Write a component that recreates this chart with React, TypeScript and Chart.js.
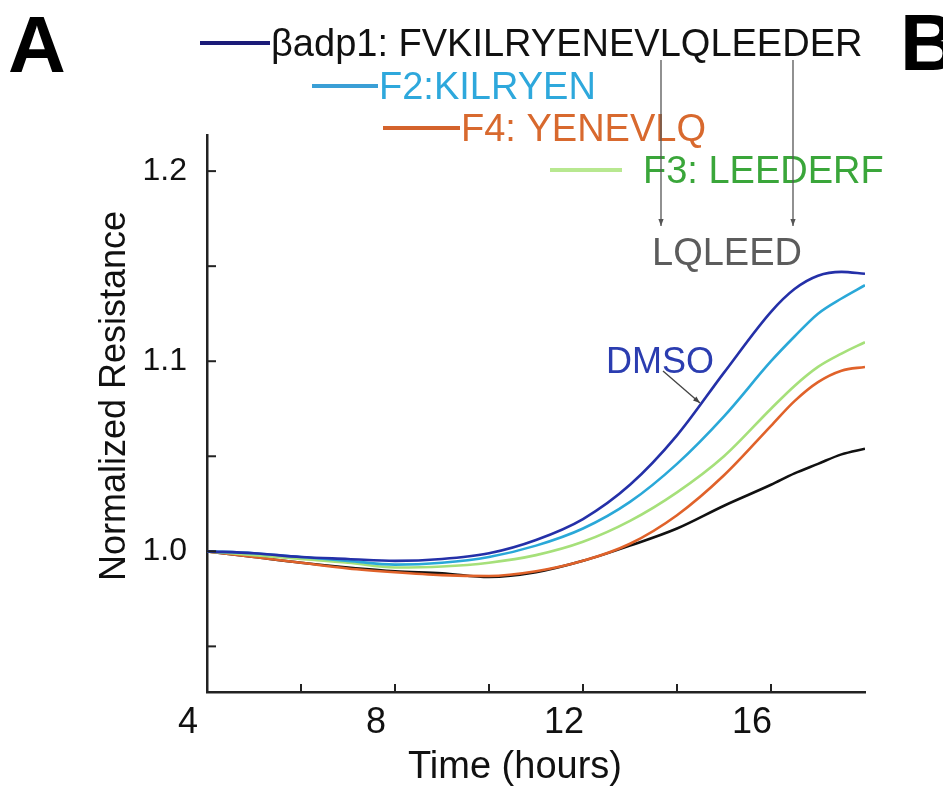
import React, { useEffect, useRef } from 'react';
import { Chart, registerables } from 'chart.js';

Chart.register(...registerables);

// ---- data ----
const TIME_HOURS = [4, 5, 6, 7, 8, 9, 10, 11, 12, 13, 14, 15, 16, 16.5, 17, 17.5, 18];
const DMSO_BADP1 = [1.0, 0.999, 0.997, 0.996, 0.995, 0.996, 0.999, 1.006, 1.017, 1.035, 1.061, 1.094, 1.126, 1.138, 1.145, 1.147, 1.146];
const F2_KILRYEN = [1.0, 0.999, 0.997, 0.995, 0.993, 0.994, 0.997, 1.003, 1.012, 1.026, 1.046, 1.071, 1.1, 1.113, 1.125, 1.133, 1.14];
const F3_LEEDERF = [1.0, 0.998, 0.996, 0.994, 0.9915, 0.992, 0.994, 0.998, 1.005, 1.016, 1.031, 1.05, 1.075, 1.087, 1.097, 1.104, 1.11];
const F4_YENEVLQ = [1.0, 0.997, 0.994, 0.991, 0.989, 0.9875, 0.987, 0.9895, 0.995, 1.004, 1.019, 1.04, 1.066, 1.079, 1.089, 1.095, 1.097];
const LQLEED = [1.0, 0.997, 0.994, 0.9915, 0.9895, 0.9885, 0.9865, 0.989, 0.995, 1.003, 1.012, 1.024, 1.035, 1.041, 1.046, 1.051, 1.054];

const X_TICKS = [4, 6, 8, 10, 12, 14, 16];
const X_TICK_LABELS = ['4', '', '8', '', '12', '', '16'];
const Y_TICKS = [0.95, 1.0, 1.05, 1.1, 1.15, 1.2];
const Y_TICK_LABELS = ['', '1.0', '', '1.1', '', '1.2'];
const X_MIN = 4;
const X_MAX = 18;
const Y_MIN = 0.926;
const Y_MAX = 1.219;

const X_TITLE = 'Time (hours)';
const Y_TITLE = 'Normalized Resistance';

const FONT = "'Liberation Sans', Arial, sans-serif";

const pts = (arr: number[]) => TIME_HOURS.map((t, i) => ({ x: t, y: arr[i] }));

function arrowLine(ctx: CanvasRenderingContext2D, x1: number, y1: number, x2: number, y2: number) {
  ctx.beginPath();
  ctx.moveTo(x1, y1);
  ctx.lineTo(x2, y2);
  ctx.stroke();
  const a = Math.atan2(y2 - y1, x2 - x1);
  const L = 7, W = 2.6;
  ctx.beginPath();
  ctx.moveTo(x2, y2);
  ctx.lineTo(x2 - L * Math.cos(a) + W * Math.sin(a), y2 - L * Math.sin(a) - W * Math.cos(a));
  ctx.lineTo(x2 - L * Math.cos(a) - W * Math.sin(a), y2 - L * Math.sin(a) + W * Math.cos(a));
  ctx.closePath();
  ctx.fill();
}

const decorPlugin = {
  id: 'decor',
  afterDraw(chart: any) {
    const ctx: CanvasRenderingContext2D = chart.ctx;
    const ca = chart.chartArea;
    const xs = chart.scales.x;
    const ys = chart.scales.y;
    ctx.save();
    // inward tick marks
    ctx.strokeStyle = '#222';
    ctx.lineWidth = 2;
    X_TICKS.forEach((v) => {
      const px = xs.getPixelForValue(v);
      ctx.beginPath();
      ctx.moveTo(px, ca.bottom);
      ctx.lineTo(px, ca.bottom - 8);
      ctx.stroke();
    });
    Y_TICKS.forEach((v) => {
      const py = ys.getPixelForValue(v);
      ctx.beginPath();
      ctx.moveTo(ca.left, py);
      ctx.lineTo(ca.left + 9, py);
      ctx.stroke();
    });

    // axis titles
    ctx.fillStyle = '#111';
    ctx.textBaseline = 'alphabetic';
    ctx.textAlign = 'center';
    ctx.font = `38px ${FONT}`;
    ctx.fillText(X_TITLE, 515, 778);
    ctx.save();
    ctx.translate(125, 396);
    ctx.rotate(-Math.PI / 2);
    ctx.font = `36px ${FONT}`;
    ctx.fillText(Y_TITLE, 0, 0);
    ctx.restore();

    // panel letters
    ctx.textAlign = 'left';
    ctx.font = `bold 80px ${FONT}`;
    ctx.fillStyle = '#000';
    ctx.fillText('A', 8, 72);
    ctx.fillText('B', 900, 70);

    // legend rows
    const rows = [
      { x1: 200, x2: 270, y: 43, line: '#1b1b78', text: 'βadp1: FVKILRYENEVLQLEEDER', tx: 271, color: '#111' },
      { x1: 312, x2: 378, y: 86, line: '#3a9fd6', text: 'F2:KILRYEN', tx: 379, color: '#2ea8dc' },
      { x1: 383, x2: 460, y: 128, line: '#d4632c', text: 'F4: YENEVLQ', tx: 461, color: '#d8692e' },
      { x1: 550, x2: 622, y: 170, line: '#b8e890', text: 'F3: LEEDERF', tx: 643, color: '#3aa63a' },
    ];
    ctx.font = `38px ${FONT}`;
    rows.forEach((r) => {
      ctx.strokeStyle = r.line;
      ctx.lineWidth = 4;
      ctx.beginPath();
      ctx.moveTo(r.x1, r.y);
      ctx.lineTo(r.x2, r.y);
      ctx.stroke();
      ctx.fillStyle = r.color;
      ctx.fillText(r.text, r.tx, r.y + 13);
    });

    // arrows to LQLEED
    ctx.strokeStyle = '#555';
    ctx.fillStyle = '#555';
    ctx.lineWidth = 1.3;
    arrowLine(ctx, 661, 60, 661, 226);
    arrowLine(ctx, 793, 60, 793, 226);
    ctx.fillStyle = '#5c5c5c';
    ctx.font = `38px ${FONT}`;
    ctx.fillText('LQLEED', 652, 265);

    // DMSO label
    ctx.fillStyle = '#2b3db0';
    ctx.font = `36px ${FONT}`;
    ctx.fillText('DMSO', 606, 373);
    ctx.strokeStyle = '#444';
    ctx.fillStyle = '#444';
    arrowLine(ctx, 663, 371, 700, 403);

    ctx.restore();
  },
};

export default function App() {
  const ref = useRef<HTMLCanvasElement | null>(null);
  useEffect(() => {
    if (!ref.current) return;
    const mk = (label: string, arr: number[], color: string) => ({
      label,
      data: pts(arr),
      borderColor: color,
      backgroundColor: color,
      borderWidth: 2.6,
      pointRadius: 0,
      cubicInterpolationMode: 'monotone' as const,
      fill: false,
    });
    const chart = new Chart(ref.current, {
      type: 'line',
      data: {
        datasets: [
          mk('DMSO (βadp1)', DMSO_BADP1, '#2430a8'),
          mk('F2: KILRYEN', F2_KILRYEN, '#2aa8d8'),
          mk('F3: LEEDERF', F3_LEEDERF, '#a6e07a'),
          mk('F4: YENEVLQ', F4_YENEVLQ, '#e0622a'),
          mk('LQLEED', LQLEED, '#111111'),
        ],
      },
      options: {
        responsive: false,
        animation: false,
        layout: { padding: { left: 0, top: 135, right: 78, bottom: 0 } },
        plugins: { legend: { display: false }, tooltip: { enabled: false } },
        scales: {
          x: {
            type: 'linear',
            min: X_MIN,
            max: X_MAX,
            grid: { display: false, drawTicks: false },
            border: { display: true, color: '#222', width: 2.5 },
            afterBuildTicks: (s: any) => {
              s.ticks = X_TICKS.map((v) => ({ value: v }));
            },
            afterFit: (s: any) => {
              s.height = 98;
            },
            ticks: {
              autoSkip: false,
              maxRotation: 0,
              padding: 9,
              labelOffset: -19,
              color: '#111',
              font: { family: FONT, size: 36 },
              callback: (_v: any, i: number) => X_TICK_LABELS[i],
            },
          },
          y: {
            type: 'linear',
            min: Y_MIN,
            max: Y_MAX,
            grid: { display: false, drawTicks: false },
            border: { display: true, color: '#222', width: 2.5 },
            afterBuildTicks: (s: any) => {
              s.ticks = Y_TICKS.map((v) => ({ value: v }));
            },
            afterFit: (s: any) => {
              s.width = 207;
            },
            ticks: {
              autoSkip: false,
              padding: 20,
              color: '#111',
              font: { family: FONT, size: 32 },
              callback: (_v: any, i: number) => Y_TICK_LABELS[i],
            },
          },
        },
      },
      plugins: [decorPlugin],
    });
    return () => chart.destroy();
  }, []);
  return (
    <div style={{ position: 'absolute', left: 0, top: 0, width: 943, height: 790, background: '#fff' }}>
      <canvas ref={ref} width={943} height={790} style={{ display: 'block' }} />
    </div>
  );
}
